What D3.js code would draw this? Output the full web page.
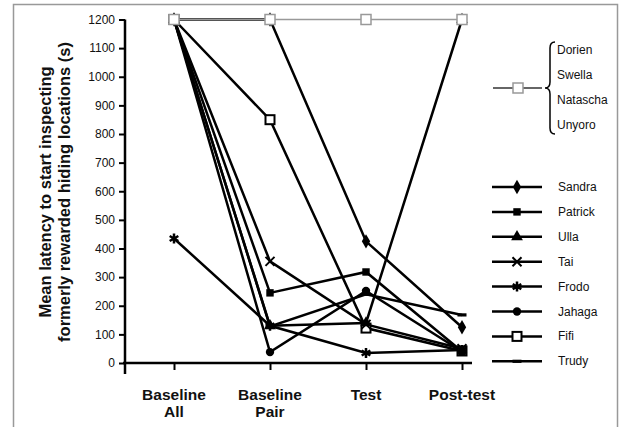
<!DOCTYPE html>
<html lang="en">
	<head>
		<meta charset="utf-8">
		<title>Latency chart</title>
		<script type="text/javascript" src="https://cdn.jsdelivr.net/npm/d3@7"></script>
		<style type="text/css">
			body { margin: 0; background: #fff; }
			text { font-family: "Liberation Sans", Arial, sans-serif; fill: #111; }
		</style>
	</head>
	<body>
		<script type="text/javascript">

			//Width and height
			var w = 621;
			var h = 427;

			var categories = ["Baseline All", "Baseline Pair", "Test", "Post-test"];
			var yTicks = [0, 100, 200, 300, 400, 500, 600, 700, 800, 900, 1000, 1100, 1200];

			var sandra  = [1200, 1200, 425, 125];
			var patrick = [1200, 245, 318, 40];
			var ulla    = [1200, 130, 140, 1200];
			var tai     = [1200, 355, 135, 50];
			var frodo   = [435, 130, 35, 45];
			var jahaga  = [1200, 38, 252, 40];
			var fifi    = [1200, 850, 122, 42];
			var trudy   = [1200, 128, 240, 168];
			var groupNames = ["Dorien", "Swella", "Natascha", "Unyoro"];
			var groupValues = [1200, 1200, 1200, 1200];

			var seriesNames = ["Sandra", "Patrick", "Ulla", "Tai", "Frodo", "Jahaga", "Fifi", "Trudy"];
			var seriesValues = [sandra, patrick, ulla, tai, frodo, jahaga, fifi, trudy];
			var seriesShapes = ["diamond", "square", "triangle", "x", "asterisk", "circle", "open", "dash"];

			var xScale = d3.scalePoint()
							.domain(categories)
							.range([174, 462]);

			var yScale = d3.scaleLinear()
							.domain([0, 1200])
							.range([363, 19.5]);

			var svg = d3.select("body")
						.append("svg")
						.attr("width", w)
						.attr("height", h);

			//Frame
			svg.append("rect")
				.attr("x", 13.5).attr("y", 4.5)
				.attr("width", 604).attr("height", 440)
				.attr("fill", "none")
				.attr("stroke", "#999")
				.attr("stroke-width", 1.5);

			//Draw a marker of a given shape at (x, y)
			function drawMarker(g, shape, x, y) {
				var m;
				if (shape === "diamond") {
					m = g.append("path").attr("d", d3.symbol(d3.symbolDiamond, 60)()).attr("fill", "#000");
				} else if (shape === "square") {
					m = g.append("path").attr("d", d3.symbol(d3.symbolSquare, 55)()).attr("fill", "#000");
				} else if (shape === "triangle") {
					m = g.append("path").attr("d", d3.symbol(d3.symbolTriangle, 60)()).attr("fill", "#000");
				} else if (shape === "circle") {
					m = g.append("path").attr("d", d3.symbol(d3.symbolCircle, 55)()).attr("fill", "#000");
				} else if (shape === "x") {
					m = g.append("path").attr("d", d3.symbol(d3.symbolX, 55)())
						.attr("fill", "none").attr("stroke", "#000").attr("stroke-width", 2);
				} else if (shape === "asterisk") {
					m = g.append("path").attr("d", d3.symbol(d3.symbolAsterisk, 70)())
						.attr("fill", "none").attr("stroke", "#000").attr("stroke-width", 2.5);
				} else if (shape === "open") {
					m = g.append("rect").attr("x", -4.5).attr("y", -4.5).attr("width", 9).attr("height", 9)
						.attr("fill", "#fff").attr("stroke", "#000").attr("stroke-width", 2);
				} else if (shape === "graybox") {
					m = g.append("rect").attr("x", -5).attr("y", -5).attr("width", 10).attr("height", 10)
						.attr("fill", "#fff").attr("stroke", "#999").attr("stroke-width", 1.5);
				} else {
					m = g.append("rect").attr("x", -4.5).attr("y", -1.6).attr("width", 9).attr("height", 3.2)
						.attr("fill", "#000");
				}
				m.attr("transform", "translate(" + x + "," + y + ")");
			}

			var line = d3.line()
						.x(function(d, i) { return xScale(categories[i]); })
						.y(function(d) { return yScale(d); });

			//Axes
			var yAxis = d3.axisLeft(yScale).tickValues(yTicks).tickFormat(d3.format("d")).tickSize(6).tickPadding(4);
			var gy = svg.append("g")
						.attr("transform", "translate(125,0)")
						.call(yAxis);
			gy.select(".domain").attr("d", "M0,19.5V374").attr("stroke", "#000").attr("stroke-width", 2.5);
			gy.selectAll(".tick line").attr("stroke", "#000").attr("stroke-width", 2);
			gy.selectAll(".tick text")
				.attr("font-size", "12px")
				.attr("font-family", "Liberation Sans, Arial, sans-serif")
				.attr("fill", "#111");

			var xAxis = d3.axisBottom(xScale).tickSize(7).tickFormat("");
			var gx = svg.append("g")
						.attr("transform", "translate(0,363)")
						.call(xAxis);
			gx.select(".domain").attr("d", "M123,0H472").attr("stroke", "#000").attr("stroke-width", 2.5);
			gx.selectAll(".tick line").attr("stroke", "#000").attr("stroke-width", 2);

			//X labels
			var xl = svg.append("g");
			categories.forEach(function(c) {
				var parts = c.split(" ");
				var t = xl.append("text")
					.attr("x", xScale(c))
					.attr("y", 400)
					.attr("text-anchor", "middle")
					.attr("font-size", "15.5px")
					.attr("font-weight", "bold");
				parts.forEach(function(p, i) {
					t.append("tspan")
						.attr("x", xScale(c))
						.attr("dy", i === 0 ? 0 : 17)
						.text(p);
				});
			});

			//Y label
			svg.append("text")
				.attr("transform", "translate(51,192) rotate(-90)")
				.attr("text-anchor", "middle")
				.attr("font-size", "16.5px")
				.attr("font-weight", "bold")
				.text("Mean latency to start inspecting");
			svg.append("text")
				.attr("transform", "translate(70,192) rotate(-90)")
				.attr("text-anchor", "middle")
				.attr("font-size", "16.5px")
				.attr("font-weight", "bold")
				.text("formerly rewarded hiding locations (s)");

			//Series lines and markers
			var plot = svg.append("g");
			seriesValues.forEach(function(vals) {
				plot.append("path")
					.attr("d", line(vals))
					.attr("fill", "none")
					.attr("stroke", "#000")
					.attr("stroke-width", 2.5);
			});
			//markers drawn last-series-first so the filled ones sit on top
			for (var k = seriesValues.length - 1; k >= 0; k--) {
				seriesValues[k].forEach(function(v, i) {
					drawMarker(plot, seriesShapes[k], xScale(categories[i]), yScale(v));
				});
			}

			//Grey group line (four individuals)
			plot.append("path")
				.attr("d", line(groupValues))
				.attr("fill", "none")
				.attr("stroke", "#999")
				.attr("stroke-width", 1.5);
			groupValues.forEach(function(v, i) {
				drawMarker(plot, "graybox", xScale(categories[i]), yScale(v));
			});

			//Legend: grey group with brace
			var lg = svg.append("g");
			lg.append("line")
				.attr("x1", 493).attr("x2", 542).attr("y1", 88).attr("y2", 88)
				.attr("stroke", "#333").attr("stroke-width", 1.5);
			drawMarker(lg, "graybox", 518, 88);
			lg.append("path")
				.attr("d", "M555,42 Q550,42 550,48 L550,82 Q550,88 545,88 Q550,88 550,94 L550,128 Q550,134 555,134")
				.attr("fill", "none").attr("stroke", "#000").attr("stroke-width", 1.5);
			groupNames.forEach(function(n, i) {
				lg.append("text")
					.attr("x", 557)
					.attr("y", 54 + i * 25)
					.attr("font-size", "12px")
					.text(n);
			});

			//Legend: individuals
			seriesNames.forEach(function(n, i) {
				var y = 187 + i * 24.9;
				lg.append("line")
					.attr("x1", 492).attr("x2", 542).attr("y1", y).attr("y2", y)
					.attr("stroke", "#000").attr("stroke-width", 2.5);
				drawMarker(lg, seriesShapes[i], 517, y);
				lg.append("text")
					.attr("x", 558)
					.attr("y", y + 4)
					.attr("font-size", "12px")
					.text(n);
			});

		</script>
	</body>
</html>
